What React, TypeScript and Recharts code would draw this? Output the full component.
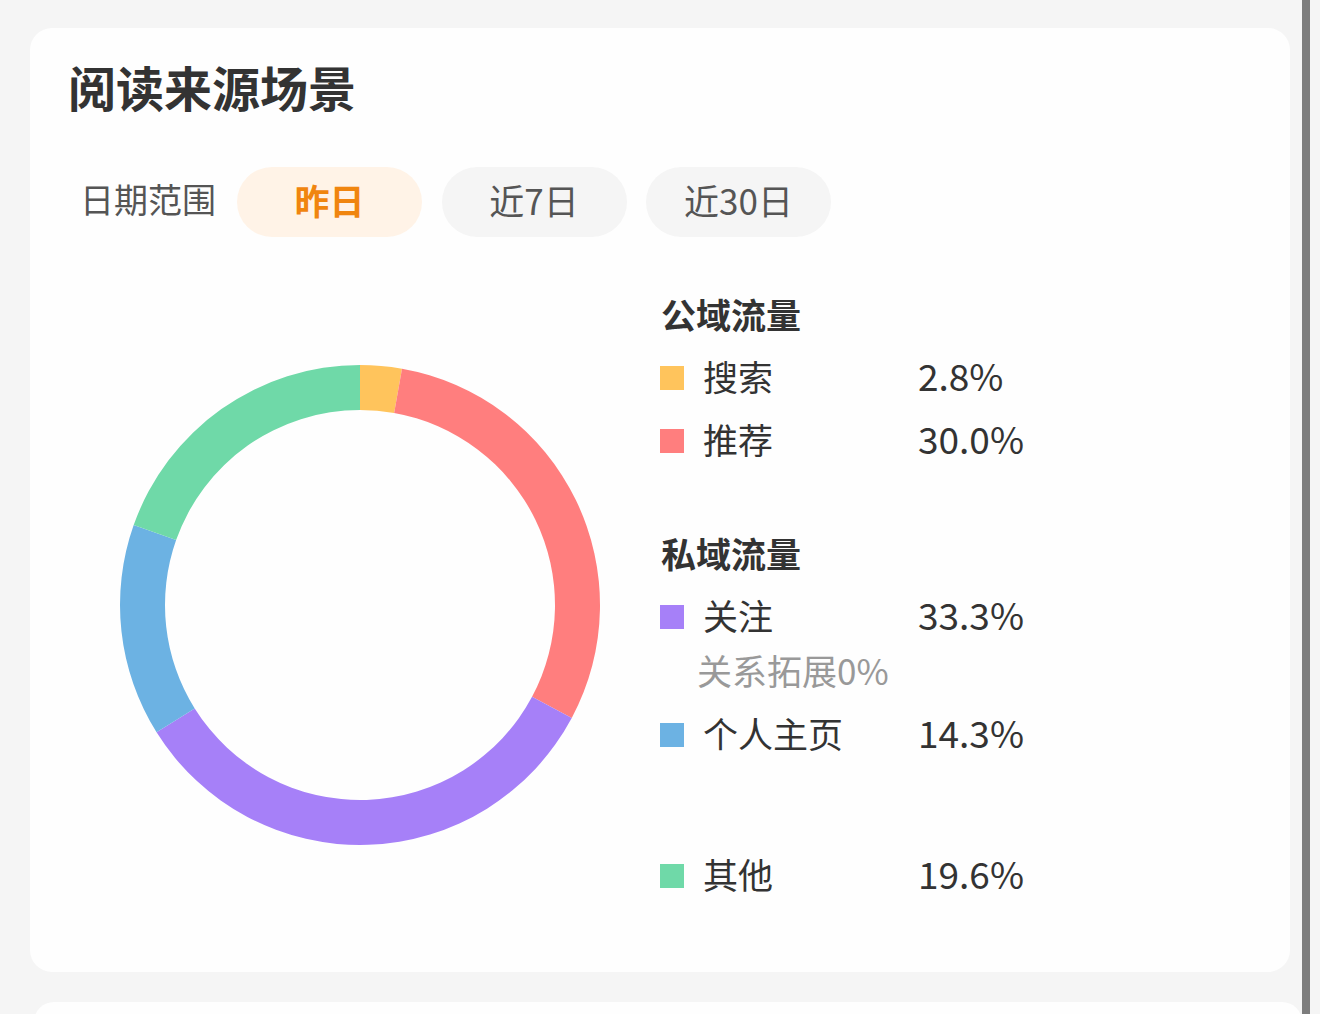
import { PieChart, Pie, Cell } from "recharts";

// reading source share, 昨日
const names = ["搜索", "推荐", "关注", "个人主页", "其他"];
const values = [2.8, 30.0, 33.3, 14.3, 19.6];
const colors = ["#FFC45C", "#FF7E7E", "#A680F8", "#6CB2E3", "#6FD9A8"];
const groups = ["公域流量", "私域流量"];
const tabs = ["昨日", "近7日", "近30日"];
const subNote = "关系拓展0%";

const FONT = '"Noto Sans CJK SC", "Noto Sans", sans-serif';
const data = names.map((name, i) => ({ name, value: values[i] }));

// legend row centers (px)
const ROW_Y = [378, 441, 617, 735, 876];
const GROUP_Y = [316, 555];

const txt = (top: number, left: number, size: number, color: string, weight = 400) => ({
  position: "absolute" as const, left, top: top - size / 2 - 3, height: size, lineHeight: `${size}px`,
  fontSize: size, color, fontWeight: weight, whiteSpace: "nowrap" as const,
});

export default function App() {
  return (
    <div style={{ position: "absolute", left: 0, top: 0, width: 1320, height: 1014, background: "#f5f5f5", overflow: "hidden", fontFamily: FONT }}>
      <div style={{ position: "absolute", left: 30, top: 28, width: 1260, height: 944, background: "#fefefe", borderRadius: 22 }} />
      <div style={{ position: "absolute", left: 34, top: 1002, width: 1268, height: 40, background: "#fefefe", borderRadius: 22 }} />
      <div style={{ position: "absolute", left: 1302, top: 0, width: 8, height: 1014, background: "#7d7d7d" }} />

      <div style={txt(89, 68, 48, "#333", 700)}>阅读来源场景</div>

      <div style={txt(202, 80, 34, "#555")}>日期范围</div>
      {tabs.map((t, i) => (
        <div key={t} style={{
          position: "absolute", left: 237 + i * 204.5, top: 167, width: 185, height: 70, borderRadius: 35,
          background: i === 0 ? "#fff3e7" : "#f5f5f5", color: i === 0 ? "#f0850f" : "#555",
          fontWeight: i === 0 ? 700 : 400, fontSize: 35, display: "flex", alignItems: "center", justifyContent: "center",
          paddingBottom: 5, boxSizing: "border-box",
        }}>{t}</div>
      ))}

      <div style={{ position: "absolute", left: 105, top: 350 }}>
        <PieChart width={510} height={510}>
          <Pie data={data} dataKey="value" nameKey="name" cx={250} cy={250} innerRadius={195} outerRadius={240}
            startAngle={90} endAngle={-270} stroke="none" isAnimationActive={false}>
            {data.map((d, i) => <Cell key={d.name} fill={colors[i]} />)}
          </Pie>
        </PieChart>
      </div>

      {groups.map((g, i) => (
        <div key={g} style={txt(GROUP_Y[i], 661, 35, "#333", 700)}>{g}</div>
      ))}
      {data.map((d, i) => (
        <div key={d.name}>
          <div style={{ position: "absolute", left: 660, top: ROW_Y[i] - 12, width: 24, height: 24, background: colors[i] }} />
          <div style={txt(ROW_Y[i], 703, 35, "#333")}>{d.name}</div>
          <div style={txt(ROW_Y[i], 918, 37, "#333")}>{d.value.toFixed(1)}%</div>
        </div>
      ))}
      <div style={txt(672, 697, 35, "#999")}>{subNote}</div>
    </div>
  );
}
